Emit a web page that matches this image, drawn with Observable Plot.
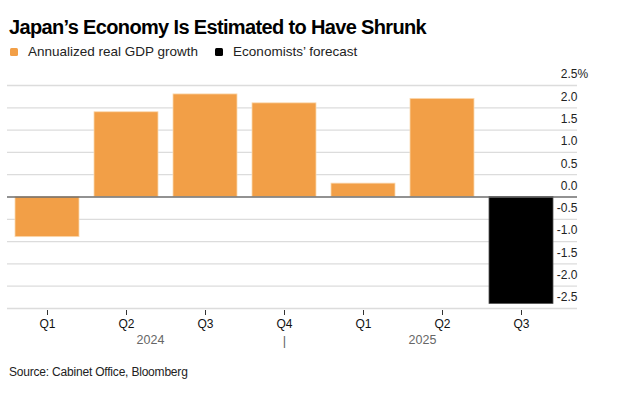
<!DOCTYPE html>
<html>
<head>
<meta charset="utf-8">
<script src="https://cdn.jsdelivr.net/npm/d3@7"></script>
<script src="https://cdn.jsdelivr.net/npm/@observablehq/plot@0.6"></script>
<style>
  html, body { margin: 0; padding: 0; background: #fff; }
  body { width: 629px; height: 393px; overflow: hidden; font-family: "Liberation Sans", Arial, sans-serif; color: #000; }
  #title { position: absolute; left: 9px; top: 16px; font-size: 20px; font-weight: bold; letter-spacing: -0.65px; white-space: nowrap; }
  #legend { position: absolute; left: 10px; top: 44px; font-size: 13.5px; color: #222; display: flex; align-items: center; white-space: nowrap; }
  .sw { display: inline-block; width: 8px; height: 8px; border-radius: 1.5px; margin-right: 10px; }
  .item { display: flex; align-items: center; margin-right: 17px; }
  #chart { position: absolute; left: 0; top: 65px; }
  #source { position: absolute; left: 9px; top: 365px; font-size: 12px; color: #222; letter-spacing: -0.2px; white-space: nowrap; }
</style>
</head>
<body>
<div id="title">Japan’s Economy Is Estimated to Have Shrunk</div>
<div id="legend"></div>
<div id="chart"></div>
<div id="source">Source: Cabinet Office, Bloomberg</div>
<script>
// Data
const quarters = ["2024 Q1", "2024 Q2", "2024 Q3", "2024 Q4", "2025 Q1", "2025 Q2", "2025 Q3"];
const growth = [-0.9, 1.9, 2.3, 2.1, 0.3, 2.2, -2.4];
const kinds = ["Annualized real GDP growth", "Annualized real GDP growth", "Annualized real GDP growth", "Annualized real GDP growth", "Annualized real GDP growth", "Annualized real GDP growth", "Economists’ forecast"];
const seriesNames = ["Annualized real GDP growth", "Economists’ forecast"];
const seriesColors = ["#f29f47", "#000000"];
const yTicks = [2.5, 2.0, 1.5, 1.0, 0.5, 0.0, -0.5, -1.0, -1.5, -2.0, -2.5];
const years = ["2024", "2025"];
const yearAnchor = ["2024 Q2", "2025 Q2"];
const yearBreak = ["2024 Q4"];

const data = quarters.map((q, i) => ({q, v: growth[i], kind: kinds[i]}));

// legend
const leg = document.getElementById("legend");
seriesNames.forEach((n, i) => {
  const it = document.createElement("span");
  it.className = "item";
  it.innerHTML = `<span class="sw" style="background:${seriesColors[i]}"></span>${n}`;
  leg.appendChild(it);
});

const fmt = d => (d < 0 ? "-" : "") + Math.abs(d).toFixed(1);

const chart = Plot.plot({
  width: 629,
  height: 290,
  marginLeft: 7,
  marginRight: 52,
  marginTop: 20,
  marginBottom: 47,
  style: {fontFamily: "Liberation Sans, Arial, sans-serif", fontSize: "12px", color: "#222", background: "transparent"},
  x: {type: "band", domain: quarters, paddingInner: 0.19, paddingOuter: 0.1, insetRight: 16, axis: null, label: null},
  y: {domain: [-2.5, 2.5], axis: null, label: null},
  color: {domain: seriesNames, range: seriesColors},
  marks: [
    Plot.ruleY(yTicks.filter(d => d !== 0), {stroke: "#dcdcdc", strokeWidth: 1.3}),
    Plot.barY(data, {x: "q", y: "v", fill: "kind", stroke: d => d.kind === seriesNames[0] ? "#fbd9b0" : "#555", strokeWidth: 0.8}),
    Plot.ruleY([0], {stroke: "#6e6e6e", strokeWidth: 1.6}),
    Plot.text(yTicks, {y: d => d, text: fmt, frameAnchor: "right", textAnchor: "end", dy: -11, fill: "#222", fontSize: 12}),
    Plot.text([yTicks[0]], {y: d => d, text: () => "%", frameAnchor: "right", textAnchor: "start", dy: -11, fill: "#222", fontSize: 12}),
    Plot.axisX({ticks: quarters, label: null, tickSize: 5, tickPadding: 4, dy: 2, tickFormat: d => d.split(" ")[1], fontSize: 12, stroke: "#333", fill: "#111"}),
    Plot.axisX({ticks: [yearAnchor[0]], label: null, tickSize: 0, tickPadding: 27, dx: 24, tickFormat: () => years[0], fontSize: 12.5, fill: "#666"}),
    Plot.axisX({ticks: [yearAnchor[1]], label: null, tickSize: 0, tickPadding: 27, dx: -20, tickFormat: () => years[1], fontSize: 12.5, fill: "#666"}),
    Plot.axisX({ticks: yearBreak, label: null, tickSize: 0, tickPadding: 27, tickFormat: () => "|", fontSize: 13, fill: "#666"})
  ]
});
document.getElementById("chart").appendChild(chart);
</script>
</body>
</html>
